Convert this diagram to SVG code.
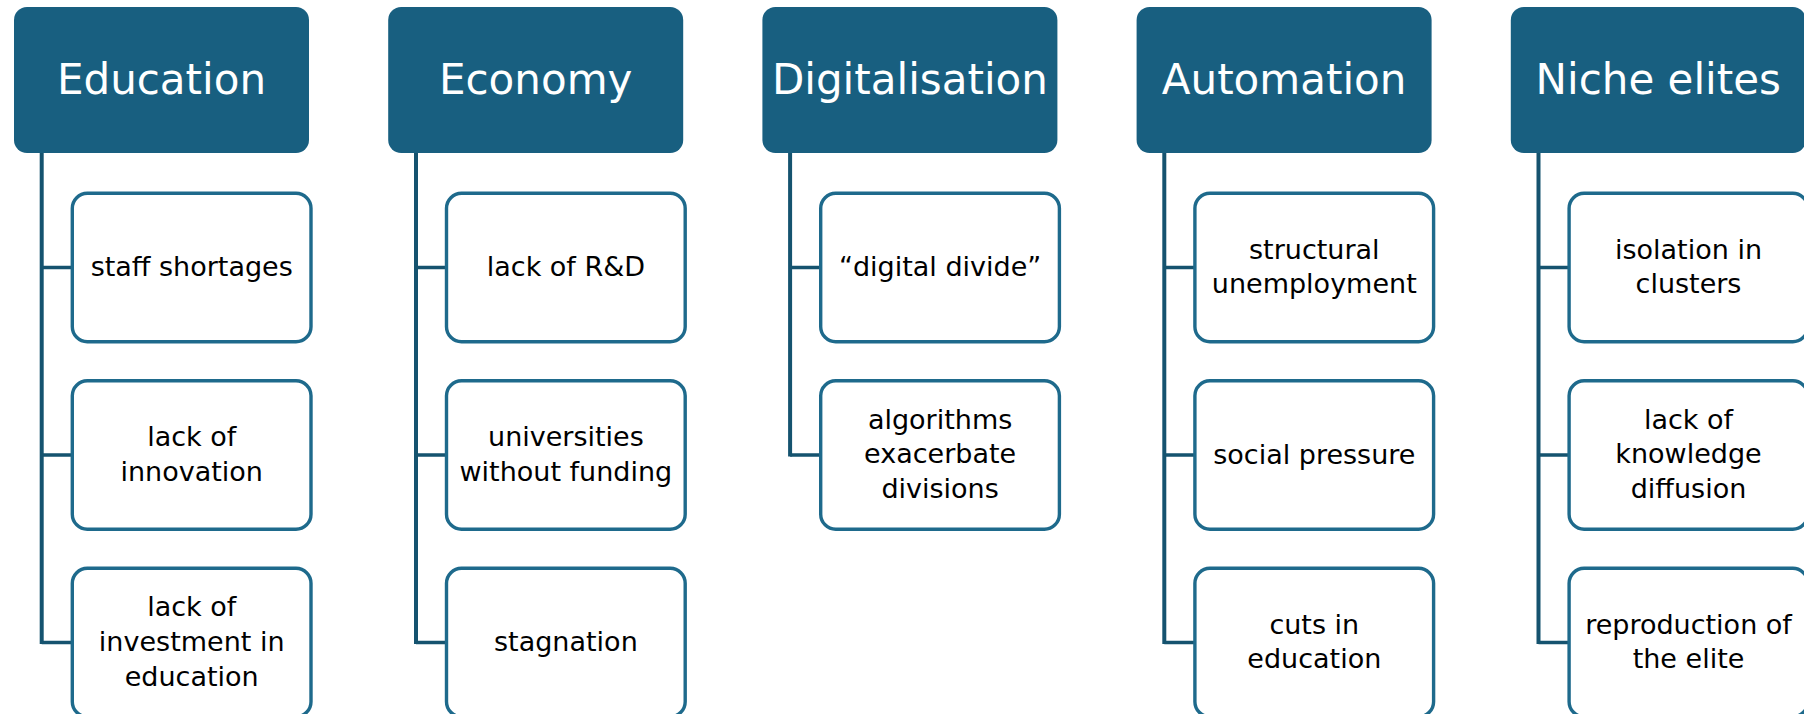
<svg xmlns="http://www.w3.org/2000/svg" width="1804" height="714" viewBox="0 0 1804 714">
<style>
.hdr{fill:#185F80}
.ht{font-family:"DejaVu Sans",sans-serif;font-size:42px;fill:#ffffff;text-anchor:middle}
.box{fill:#ffffff;stroke:#1E6A8C;stroke-width:3.4}
.ct{font-family:"DejaVu Sans",sans-serif;font-size:27px;fill:#000000;text-anchor:middle}
.ln{stroke:#15536F;stroke-width:4;fill:none}
.hl{stroke:#15536F;stroke-width:3.5;fill:none}
</style>
<rect width="1804" height="714" fill="#ffffff"/>
<g id="connectors">
<path class="ln" d="M41.7,153 V644"/>
<path class="hl" d="M41.7,267.5 H72 M41.7,455 H72 M41.7,642.5 H72"/>
<path class="ln" d="M416,153 V644"/>
<path class="hl" d="M416,267.5 H446 M416,455 H446 M416,642.5 H446"/>
<path class="ln" d="M790.1,153 V456.5"/>
<path class="hl" d="M790.1,267.5 H820 M790.1,455 H820"/>
<path class="ln" d="M1164.3,153 V644"/>
<path class="hl" d="M1164.3,267.5 H1194 M1164.3,455 H1194 M1164.3,642.5 H1194"/>
<path class="ln" d="M1538.5,153 V644"/>
<path class="hl" d="M1538.5,267.5 H1568 M1538.5,455 H1568 M1538.5,642.5 H1568"/>
</g>
<g id="education">
<rect class="hdr" x="14" y="7" width="295" height="146" rx="13"/>
<text class="ht" x="161.5" y="94">Education</text>
</g>
<g id="edu-1"><rect class="box" x="72.3" y="193.3" width="238.7" height="148.4" rx="15"/>
<text class="ct" x="191.7" y="276">staff shortages</text></g>
<g id="edu-2"><rect class="box" x="72.3" y="380.8" width="238.7" height="148.4" rx="15"/>
<text class="ct" x="191.7" y="446">lack of</text><text class="ct" x="191.7" y="480.7">innovation</text></g>
<g id="edu-3"><rect class="box" x="72.3" y="568.3" width="238.7" height="148.4" rx="15"/>
<text class="ct" x="191.7" y="616">lack of</text><text class="ct" x="191.7" y="650.5">investment in</text><text class="ct" x="191.7" y="685.5">education</text></g>

<g id="economy">
<rect class="hdr" x="388.2" y="7" width="295" height="146" rx="13"/>
<text class="ht" x="535.7" y="94">Economy</text>
</g>
<g id="eco-1"><rect class="box" x="446.5" y="193.3" width="238.7" height="148.4" rx="15"/>
<text class="ct" x="565.9" y="276">lack of R&amp;D</text></g>
<g id="eco-2"><rect class="box" x="446.5" y="380.8" width="238.7" height="148.4" rx="15"/>
<text class="ct" x="565.9" y="446">universities</text><text class="ct" x="565.9" y="480.7">without funding</text></g>
<g id="eco-3"><rect class="box" x="446.5" y="568.3" width="238.7" height="148.4" rx="15"/>
<text class="ct" x="565.9" y="651">stagnation</text></g>

<g id="digitalisation">
<rect class="hdr" x="762.4" y="7" width="295" height="146" rx="13"/>
<text class="ht" x="909.9" y="94">Digitalisation</text>
</g>
<g id="dig-1"><rect class="box" x="820.7" y="193.3" width="238.7" height="148.4" rx="15"/>
<text class="ct" x="940.1" y="276">“digital divide”</text></g>
<g id="dig-2"><rect class="box" x="820.7" y="380.8" width="238.7" height="148.4" rx="15"/>
<text class="ct" x="940.1" y="428.5">algorithms</text><text class="ct" x="940.1" y="463.2">exacerbate</text><text class="ct" x="940.1" y="498">divisions</text></g>

<g id="automation">
<rect class="hdr" x="1136.6" y="7" width="295" height="146" rx="13"/>
<text class="ht" x="1284.1" y="94">Automation</text>
</g>
<g id="aut-1"><rect class="box" x="1194.9" y="193.3" width="238.7" height="148.4" rx="15"/>
<text class="ct" x="1314.3" y="258.5">structural</text><text class="ct" x="1314.3" y="293.2">unemployment</text></g>
<g id="aut-2"><rect class="box" x="1194.9" y="380.8" width="238.7" height="148.4" rx="15"/>
<text class="ct" x="1314.3" y="463.5">social pressure</text></g>
<g id="aut-3"><rect class="box" x="1194.9" y="568.3" width="238.7" height="148.4" rx="15"/>
<text class="ct" x="1314.3" y="633.5">cuts in</text><text class="ct" x="1314.3" y="668.2">education</text></g>

<g id="niche-elites">
<rect class="hdr" x="1510.8" y="7" width="295" height="146" rx="13"/>
<text class="ht" x="1658.3" y="94">Niche elites</text>
</g>
<g id="nic-1"><rect class="box" x="1569.1" y="193.3" width="238.7" height="148.4" rx="15"/>
<text class="ct" x="1688.5" y="258.5">isolation in</text><text class="ct" x="1688.5" y="293.2">clusters</text></g>
<g id="nic-2"><rect class="box" x="1569.1" y="380.8" width="238.7" height="148.4" rx="15"/>
<text class="ct" x="1688.5" y="428.5">lack of</text><text class="ct" x="1688.5" y="463.2">knowledge</text><text class="ct" x="1688.5" y="498">diffusion</text></g>
<g id="nic-3"><rect class="box" x="1569.1" y="568.3" width="238.7" height="148.4" rx="15"/>
<text class="ct" x="1688.5" y="633.5">reproduction of</text><text class="ct" x="1688.5" y="668.2">the elite</text></g>
</svg>
